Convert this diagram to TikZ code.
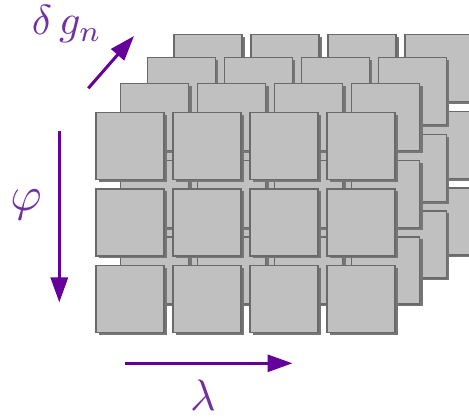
\documentclass[tikz,border=0pt]{standalone}
\usetikzlibrary{shadows,arrows.meta}
\definecolor{boxfill}{HTML}{C0C0C0}
\definecolor{boxline}{HTML}{6A6A6A}
\definecolor{boxshadow}{HTML}{767676}
\definecolor{arrowpurple}{HTML}{66009A}
\definecolor{txtpurple}{HTML}{7030A0}
\tikzset{
  cell/.style={draw=boxline, line width=1.2pt, fill=boxfill, inner sep=0pt,
    minimum width=68pt, minimum height=67pt, anchor=north west,
    drop shadow={shadow xshift=3pt, shadow yshift=-2.5pt, fill=boxshadow, opacity=1}},
  axisarrow/.style={draw=arrowpurple, line width=3pt,
    -{Triangle[length=25pt,width=17pt]}},
  lbl/.style={text=txtpurple, inner sep=0pt}
}
\begin{document}
\begin{tikzpicture}[x=1pt,y=-1pt]
\useasboundingbox (0,0) rectangle (469,419);
% layers from back to front
\foreach \L/\ox/\oy in {4/173.3/34, 3/146.7/57, 2/120/83, 1/95.3/111.7}{
  \foreach \r in {0,1,2}{
    \foreach \c in {0,1,2,3}{
      \node[cell] (L\L-\r-\c) at ({\ox+77*\c},{\oy+76.7*\r}) {};
    }
  }
}
% arrows
\coordinate (phiA) at (59.3,131);
\coordinate (phiB) at (59.3,302.5);
\coordinate (lamA) at (125,363.3);
\coordinate (lamB) at (292.5,363.3);
\coordinate (dgA) at (88.3,88.3);
\coordinate (dgB) at (134,36);
\draw[axisarrow] (phiA) -- (phiB);
\draw[axisarrow] (lamA) -- (lamB);
\draw[axisarrow] (dgA) -- (dgB);
% labels
\node[lbl, anchor=base west, scale=4.2] (dg) at (31,35) {$\delta\, g_n$};
\node[lbl, scale=4.8] (phi) at (26,205) {$\varphi$};
\node[lbl, scale=4.4] (lam) at (203,395) {$\lambda$};
\end{tikzpicture}
\end{document}
